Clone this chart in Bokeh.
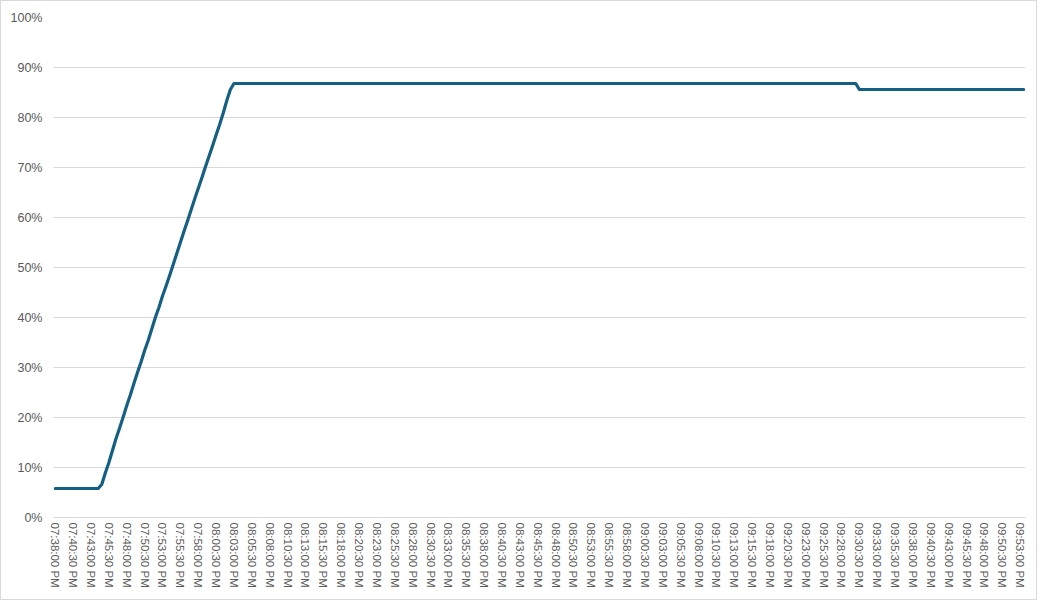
from datetime import datetime

from bokeh.embed import file_html
from bokeh.models import ColumnDataSource, FixedTicker, PrintfTickFormatter, Range1d
from bokeh.plotting import figure
from bokeh.resources import INLINE

# sample times (readings every 30 s; only the points where the level changes)
times = [
    "07:38:00 PM", "07:44:00 PM", "07:44:30 PM", "07:45:00 PM", "07:45:30 PM",
    "07:46:00 PM", "07:46:30 PM", "07:47:00 PM", "07:47:30 PM", "07:48:00 PM",
    "07:48:30 PM", "07:49:00 PM", "07:49:30 PM", "07:50:00 PM", "07:50:30 PM",
    "07:51:00 PM", "07:51:30 PM", "07:52:00 PM", "07:52:30 PM", "07:53:00 PM",
    "07:53:30 PM", "07:54:00 PM", "07:54:30 PM", "07:55:00 PM", "07:55:30 PM",
    "07:56:00 PM", "07:56:30 PM", "07:57:00 PM", "07:57:30 PM", "07:58:00 PM",
    "07:58:30 PM", "07:59:00 PM", "07:59:30 PM", "08:00:00 PM", "08:00:30 PM",
    "08:01:00 PM", "08:01:30 PM", "08:02:00 PM", "08:02:30 PM", "08:03:00 PM",
    "09:30:00 PM", "09:30:30 PM", "09:53:30 PM",
]
level = [
    5.8, 5.8, 6.6, 8.9, 11.0,
    13.4, 15.8, 17.9, 20.1, 22.4,
    24.5, 26.8, 29.0, 31.1, 33.4,
    35.4, 37.7, 40.0, 42.0, 44.3,
    46.3, 48.4, 50.6, 52.8, 55.0,
    57.2, 59.3, 61.5, 63.7, 65.8,
    67.9, 70.1, 72.2, 74.3, 76.5,
    78.6, 80.9, 83.4, 85.6, 86.8,
    86.8, 85.6, 85.6,
]

tick_labels = [
    "07:38:00 PM", "07:40:30 PM", "07:43:00 PM", "07:45:30 PM", "07:48:00 PM",
    "07:50:30 PM", "07:53:00 PM", "07:55:30 PM", "07:58:00 PM", "08:00:30 PM",
    "08:03:00 PM", "08:05:30 PM", "08:08:00 PM", "08:10:30 PM", "08:13:00 PM",
    "08:15:30 PM", "08:18:00 PM", "08:20:30 PM", "08:23:00 PM", "08:25:30 PM",
    "08:28:00 PM", "08:30:30 PM", "08:33:00 PM", "08:35:30 PM", "08:38:00 PM",
    "08:40:30 PM", "08:43:00 PM", "08:45:30 PM", "08:48:00 PM", "08:50:30 PM",
    "08:53:00 PM", "08:55:30 PM", "08:58:00 PM", "09:00:30 PM", "09:03:00 PM",
    "09:05:30 PM", "09:08:00 PM", "09:10:30 PM", "09:13:00 PM", "09:15:30 PM",
    "09:18:00 PM", "09:20:30 PM", "09:23:00 PM", "09:25:30 PM", "09:28:00 PM",
    "09:30:30 PM", "09:33:00 PM", "09:35:30 PM", "09:38:00 PM", "09:40:30 PM",
    "09:43:00 PM", "09:45:30 PM", "09:48:00 PM", "09:50:30 PM", "09:53:00 PM",
]


def slot(t):
    # position of a reading on the 30 s category axis
    d = datetime.strptime(t, "%I:%M:%S %p") - datetime.strptime(times[0], "%I:%M:%S %p")
    return d.total_seconds() / 30


x = [slot(t) for t in times]
ticks = [slot(t) for t in tick_labels]
last = slot(times[-1])

source = ColumnDataSource(data=dict(x=x, level=level))

FONT = "Liberation Sans"
GREY_TEXT = "#595959"
GRID = "#d9d9d9"

p = figure(width=1037, height=600, output_backend="svg", toolbar_location=None,
           x_range=Range1d(-0.5, last + 0.5), y_range=Range1d(0, 100),
           min_border_left=52, min_border_right=13, min_border_top=16, min_border_bottom=84)

p.line("x", "level", source=source, line_color="#156082", line_width=3.2,
       line_join="round", line_cap="round")

p.outline_line_color = None
p.styles = {"border": "1px solid #d9d9d9"}
p.xgrid.grid_line_color = None
p.ygrid.grid_line_color = GRID
p.ygrid.ticker = FixedTicker(ticks=list(range(0, 101, 10)))

p.yaxis.ticker = FixedTicker(ticks=list(range(0, 101, 10)))
p.yaxis.formatter = PrintfTickFormatter(format="%d%%")
p.yaxis.axis_line_color = None
p.yaxis.major_label_text_font_size = "12.5px"
p.yaxis.major_label_standoff = 11

p.xaxis.ticker = FixedTicker(ticks=ticks)
p.xaxis.major_label_overrides = {t: lab for t, lab in zip(ticks, tick_labels)}
p.xaxis.major_label_orientation = "vertical"
p.xaxis.axis_line_color = GRID
p.xaxis.major_label_text_font_size = "11.5px"
p.xaxis.major_label_standoff = 5

for ax in (p.xaxis, p.yaxis):
    ax.major_tick_line_color = None
    ax.minor_tick_line_color = None
    ax.major_tick_out = 0
    ax.major_tick_in = 0
    ax.major_label_text_font = FONT
    ax.major_label_text_color = GREY_TEXT

open("out.html", "w").write(file_html(p, INLINE))
